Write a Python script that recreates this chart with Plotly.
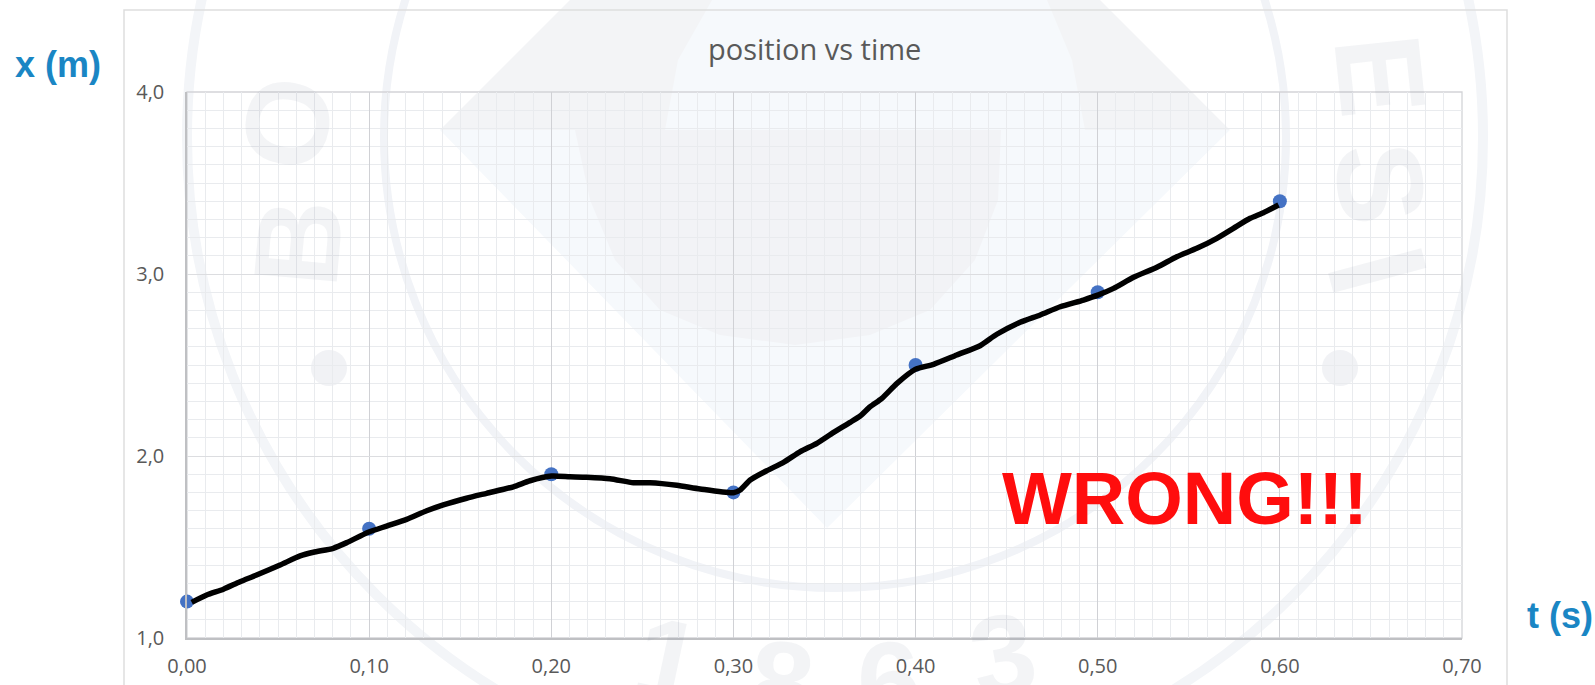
import plotly.graph_objects as go

# ---------- data ----------
point_t = [0.0, 0.1, 0.2, 0.3, 0.4, 0.5, 0.6]
point_x = [1.2, 1.6, 1.9, 1.8, 2.5, 2.9, 3.4]

sketch_t = [0.0026, 0.0108, 0.0200, 0.0291, 0.0382, 0.0511, 0.0621, 0.0694, 0.0803, 0.0877,
            0.0995, 0.1096, 0.1206, 0.1316, 0.1407, 0.1535, 0.1645, 0.1792, 0.1883, 0.2002,
            0.2102, 0.2194, 0.2322, 0.2451, 0.2542, 0.2689, 0.2817, 0.3000, 0.3037, 0.3092,
            0.3183, 0.3275, 0.3367, 0.3458, 0.3550, 0.3641, 0.3696, 0.3751, 0.3815, 0.3898,
            0.3998, 0.4099, 0.4226, 0.4354, 0.4446, 0.4574, 0.4684, 0.4794, 0.4922, 0.5004,
            0.5087, 0.5197, 0.5325, 0.5434, 0.5544, 0.5654, 0.5745, 0.5837, 0.5910, 0.5993]
sketch_x = [1.196, 1.236, 1.268, 1.309, 1.346, 1.401, 1.451, 1.471, 1.493, 1.524,
            1.581, 1.615, 1.652, 1.699, 1.731, 1.768, 1.795, 1.831, 1.864, 1.890,
            1.886, 1.883, 1.875, 1.853, 1.853, 1.839, 1.819, 1.798, 1.813, 1.868,
            1.919, 1.965, 2.024, 2.070, 2.130, 2.185, 2.220, 2.271, 2.317, 2.399,
            2.476, 2.504, 2.555, 2.606, 2.669, 2.735, 2.775, 2.820, 2.857, 2.885,
            2.921, 2.982, 3.037, 3.095, 3.141, 3.196, 3.251, 3.306, 3.337, 3.379]

x_ticks = [0.0, 0.1, 0.2, 0.3, 0.4, 0.5, 0.6, 0.7]
x_labels = ["0,00", "0,10", "0,20", "0,30", "0,40", "0,50", "0,60", "0,70"]
y_ticks = [1, 2, 3, 4]
y_labels = ["1,0", "2,0", "3,0", "4,0"]

# ---------- page geometry ----------
W, H = 1595, 685
L, R, T, B = 187, 1462, 92, 638


def px(v):
    return (v - L) / (R - L)


def py(v):
    return (B - v) / (B - T)


def path(points):
    return "M " + " L ".join(f"{px(a):.4f},{py(b):.4f}" for a, b in points) + " Z"


def circle(cx, cy, r, width, color):
    return dict(type="circle", xref="paper", yref="paper", layer="below",
                x0=px(cx - r), x1=px(cx + r), y0=py(cy + r), y1=py(cy - r),
                line=dict(color=color, width=width), fillcolor="rgba(0,0,0,0)")


def poly(points, color):
    return dict(type="path", xref="paper", yref="paper", layer="below",
                path=path(points), fillcolor=color, line=dict(width=0))


WM = "#f1f2f5"
shapes = [
    # watermark emblem
    circle(835, 137, 648, 10, "#f3f5f8"),
    circle(835, 137, 451, 8, "#f1f3f7"),
    poly([(440, 130), (570, 0), (1100, 0), (1230, 130)], "#f3f4f6"),
    poly([(440, 130), (1230, 130), (827, 528)], "#f6f9fc"),
    poly([(712, 0), (1047, 0), (1072, 60), (1085, 130), (665, 130), (678, 60)], "#f6f9fc"),
    poly([(575, 130), (1001, 130), (998, 200), (975, 260), (930, 310), (870, 335), (795, 345),
          (720, 335), (660, 310), (615, 260), (590, 200)], "#f2f3f6"),
    circle(329, 368, 18, 0, WM) | dict(fillcolor=WM, line=dict(width=0)),
    circle(1340, 368, 18, 0, WM) | dict(fillcolor=WM, line=dict(width=0)),
    # chart frame
    dict(type="rect", xref="paper", yref="paper", layer="below",
         x0=px(124), x1=px(1507), y0=py(690), y1=py(10),
         line=dict(color="#dedede", width=1.5), fillcolor="rgba(0,0,0,0)"),
    # top and right edges of the plot area
    dict(type="rect", xref="paper", yref="paper", layer="below", x0=0, x1=1, y0=0, y1=1,
         line=dict(color="#d3d4d7", width=1.3), fillcolor="rgba(0,0,0,0)"),
]


def text(x, y, s, size, color, bold=True, font="Liberation Sans", angle=0):
    return dict(xref="paper", yref="paper", x=px(x), y=py(y), text=f"<b>{s}</b>" if bold else s,
                showarrow=False, xanchor="center", yanchor="middle", textangle=angle,
                font=dict(family=font, size=size, color=color))


WT = "rgba(120,130,150,0.09)"
annotations = [
    # watermark lettering
    text(287, 123, "O", 118, WT, angle=-80),
    text(298, 243, "B", 120, WT, angle=-85),
    text(1380, 75, "E", 122, WT, angle=84),
    text(1380, 183, "S", 122, WT, angle=84),
    text(1378, 270, "I", 140, WT, angle=75),
    text(668, 660, "1", 115, WT, angle=12),
    text(782, 682, "8", 115, WT, angle=5),
    text(889, 682, "6", 115, WT, angle=-4),
    text(1003, 655, "3", 115, WT, angle=-10),
    # chart and overlay text
    text(814, 48, "position vs time", 29, "#595959", bold=False, font="Open Sans"),
    text(57.5, 65, "x (m)", 36, "#1a86c4"),
    text(1560, 615, "t (s)", 36, "#1a86c4"),
    text(1185, 498, "WRONG!!!", 74, "#ff0d0d"),
]

fig = go.Figure()
fig.add_trace(go.Scatter(x=point_t, y=point_x, mode="markers", cliponaxis=False,
                         marker=dict(color="#4472c4", size=14), showlegend=False))
fig.add_trace(go.Scatter(x=sketch_t, y=sketch_x, mode="lines", cliponaxis=False,
                         line=dict(color="#000000", width=5.5, shape="spline", smoothing=0.6),
                         showlegend=False))

tickfont = dict(family="Open Sans", size=20, color="#595959")
fig.update_layout(
    width=W, height=H, margin=dict(l=L, r=W - R, t=T, b=H - B, autoexpand=False),
    paper_bgcolor="white", plot_bgcolor="rgba(0,0,0,0)",
    shapes=shapes, annotations=annotations, showlegend=False,
    xaxis=dict(range=[0, 0.7], tickvals=x_ticks, ticktext=x_labels, tickfont=tickfont,
               showgrid=True, gridcolor="#d0d1d5", gridwidth=1.3, zeroline=False, automargin=False,
               showline=True, linecolor="#bfc0c3", linewidth=1.5, ticks="", ticklabelstandoff=9,
               minor=dict(dtick=0.01, showgrid=True, gridcolor="#e9ebee", gridwidth=1)),
    yaxis=dict(range=[1, 4], tickvals=y_ticks, ticktext=y_labels, tickfont=tickfont,
               showgrid=True, gridcolor="#dcdde0", gridwidth=1.3, zeroline=False, automargin=False,
               showline=True, linecolor="#bfc0c3", linewidth=1.5, ticks="", ticklabelstandoff=17,
               minor=dict(dtick=0.1, showgrid=True, gridcolor="#e9ebee", gridwidth=1)),
)
fig.write_html("out.html", config={"displayModeBar": False},
               post_script="document.body.style.margin='0';document.body.style.overflow='hidden';")
